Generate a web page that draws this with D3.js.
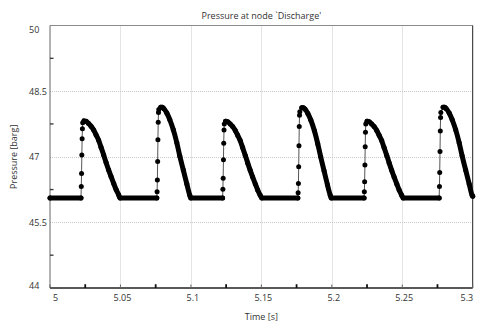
<!DOCTYPE html>
<html>
<head>
<meta charset="utf-8">
<script src="https://cdn.jsdelivr.net/npm/d3@7"></script>
<style>
  html, body { margin: 0; padding: 0; background: #fff; }
  svg { display: block; }
  text { font-family: "Open Sans", "Noto Sans", sans-serif; fill: #333; }
</style>
</head>
<body>
<svg id="chart" width="480" height="334"></svg>
<script>
// Axis ticks and labels
const timeTicks = [5, 5.05, 5.1, 5.15, 5.2, 5.25, 5.3];
const timeTickLabels = ["5", "5.05", "5.1", "5.15", "5.2", "5.25", "5.3"];
const timeMinorTicks = [5.025, 5.075, 5.125, 5.175, 5.225, 5.275];
const pressureTicks = [44, 45.5, 47, 48.5, 50];
const pressureTickLabels = ["44", "45.5", "47", "48.5", "50"];
const pressureMinorTicks = [44.75, 46.25, 47.75, 49.25];

// Discharge pressure samples [time s, pressure barg]
const traceStart = [[5.0000, 46.06]];

// Each pulse: fast rise (individually visible samples), then slower decay.
const rise1 = [[5.0220, 46.06], [5.0222, 46.32], [5.0224, 46.62], [5.0226, 47.04], [5.0228, 47.41], [5.0230, 47.64], [5.0232, 47.78]];
const fall1 = [[5.0241, 47.82], [5.0256, 47.81], [5.0274, 47.76], [5.0291, 47.70], [5.0310, 47.61], [5.0327, 47.50], [5.0345, 47.38], [5.0362, 47.22], [5.0381, 47.04], [5.0398, 46.87], [5.0416, 46.70], [5.0433, 46.55], [5.0452, 46.39], [5.0469, 46.25], [5.0487, 46.13], [5.0497, 46.06]];

const rise2 = [[5.0758, 46.06], [5.0760, 46.20], [5.0762, 46.47], [5.0764, 46.89], [5.0766, 47.39], [5.0768, 47.79], [5.0770, 48.01], [5.0772, 48.08]];
const fall2 = [[5.0786, 48.13], [5.0797, 48.13], [5.0808, 48.10], [5.0829, 48.00], [5.0850, 47.85], [5.0875, 47.62], [5.0900, 47.32], [5.0921, 47.02], [5.0946, 46.70], [5.0971, 46.38], [5.0992, 46.12], [5.0999, 46.06]];

const rise3 = [[5.1225, 46.06], [5.1227, 46.26], [5.1229, 46.51], [5.1231, 46.93], [5.1233, 47.31], [5.1235, 47.61], [5.1237, 47.75]];
const fall3 = [[5.1246, 47.81], [5.1261, 47.80], [5.1279, 47.75], [5.1296, 47.69], [5.1315, 47.60], [5.1332, 47.49], [5.1350, 47.37], [5.1367, 47.21], [5.1386, 47.03], [5.1403, 46.86], [5.1421, 46.69], [5.1438, 46.54], [5.1457, 46.38], [5.1474, 46.24], [5.1492, 46.12], [5.1503, 46.06]];

const rise4 = [[5.1759, 46.06], [5.1761, 46.18], [5.1763, 46.39], [5.1765, 46.77], [5.1767, 47.25], [5.1769, 47.69], [5.1771, 47.95], [5.1773, 48.03]];
const fall4 = [[5.1787, 48.12], [5.1798, 48.12], [5.1809, 48.09], [5.1830, 47.99], [5.1851, 47.84], [5.1876, 47.60], [5.1900, 47.30], [5.1921, 47.00], [5.1945, 46.68], [5.1969, 46.36], [5.1989, 46.12], [5.1996, 46.06]];

const rise5 = [[5.2229, 46.06], [5.2231, 46.20], [5.2233, 46.43], [5.2235, 46.81], [5.2237, 47.23], [5.2239, 47.56], [5.2241, 47.75]];
const fall5 = [[5.2250, 47.81], [5.2265, 47.80], [5.2283, 47.75], [5.2300, 47.69], [5.2319, 47.60], [5.2336, 47.49], [5.2354, 47.37], [5.2371, 47.21], [5.2390, 47.03], [5.2407, 46.86], [5.2425, 46.69], [5.2442, 46.54], [5.2461, 46.38], [5.2478, 46.24], [5.2496, 46.12], [5.2506, 46.06]];

const rise6 = [[5.2762, 46.06], [5.2764, 46.32], [5.2766, 46.64], [5.2768, 47.12], [5.2770, 47.59], [5.2772, 47.90], [5.2774, 48.01]];
const fall6 = [[5.2790, 48.13], [5.2801, 48.13], [5.2812, 48.10], [5.2833, 48.00], [5.2854, 47.85], [5.2879, 47.62], [5.2904, 47.32], [5.2925, 47.02], [5.2950, 46.70], [5.2975, 46.38], [5.2996, 46.12], [5.3000, 46.10]];

const rises = [rise1, rise2, rise3, rise4, rise5, rise6];
const falls = [fall1, fall2, fall3, fall4, fall5, fall6];

// ---- layout ----
const plot = { left: 50, top: 25.5, right: 472.7, bottom: 288 };
const markerR = 2.5;

const svg = d3.select("#chart");

const x = d3.scaleLinear().domain([5, 5.3]).range([plot.left, plot.right]);
const y = d3.scaleLinear().domain([44, 50]).range([plot.bottom, plot.top]);

// grid
const grid = svg.append("g").attr("stroke", "#c8c8c8").attr("stroke-dasharray", "1,1").attr("stroke-width", 1);
grid.selectAll("line.vx").data(timeTicks.slice(1, -1)).join("line")
  .attr("x1", d => Math.round(x(d)) + 0.5).attr("x2", d => Math.round(x(d)) + 0.5)
  .attr("y1", plot.top).attr("y2", plot.bottom);
grid.selectAll("line.hy").data(pressureTicks.slice(1, -1)).join("line")
  .attr("y1", d => Math.round(y(d)) + 0.5).attr("y2", d => Math.round(y(d)) + 0.5)
  .attr("x1", plot.left).attr("x2", plot.right);

// frame
const frame = svg.append("g").attr("fill", "none");
frame.append("line").attr("x1", plot.left).attr("x2", plot.right).attr("y1", plot.top).attr("y2", plot.top).attr("stroke", "#8a8a8a");
frame.append("line").attr("x1", plot.left).attr("x2", plot.left).attr("y1", plot.top).attr("y2", plot.bottom).attr("stroke", "#666");
frame.append("line").attr("x1", plot.right).attr("x2", plot.right).attr("y1", plot.top).attr("y2", plot.bottom).attr("stroke", "#222");
frame.append("line").attr("x1", plot.left).attr("x2", plot.right).attr("y1", plot.bottom).attr("y2", plot.bottom).attr("stroke", "#222").attr("stroke-width", 1.4);

// ticks (drawn inward)
const ticks = svg.append("g");
ticks.selectAll("line.xmaj").data(timeTicks).join("line")
  .attr("x1", d => x(d)).attr("x2", d => x(d)).attr("y1", plot.bottom).attr("y2", plot.bottom - 3.5)
  .attr("stroke", "#666").attr("stroke-width", 1);
ticks.selectAll("line.xmin").data(timeMinorTicks).join("line")
  .attr("x1", d => x(d)).attr("x2", d => x(d)).attr("y1", plot.bottom).attr("y2", plot.bottom - 3.8)
  .attr("stroke", "#111").attr("stroke-width", 1.8);
ticks.selectAll("line.ymin").data(pressureMinorTicks).join("line")
  .attr("x1", plot.left).attr("x2", plot.left + 3.5).attr("y1", d => y(d)).attr("y2", d => y(d))
  .attr("stroke", "#333").attr("stroke-width", 1.3);

// tick labels
const xLab = svg.append("g").attr("font-size", 9);
xLab.selectAll("text").data(timeTicks).join("text")
  .text((d, i) => timeTickLabels[i])
  .attr("y", 301)
  .attr("text-anchor", "middle")
  .attr("x", function (d) {
    const w = this.getComputedTextLength();
    let cx = x(d) + 2;
    cx = Math.max(plot.left + 3 + w / 2, Math.min(plot.right + 0.5 - w / 2, cx));
    return cx;
  });

const yLab = svg.append("g").attr("font-size", 9);
yLab.selectAll("text").data(pressureTicks).join("text")
  .text((d, i) => pressureTickLabels[i])
  .attr("x", 29)
  .attr("dominant-baseline", "central")
  .attr("y", d => Math.max(plot.top + 3.5, Math.min(plot.bottom - 2.3, y(d))));

// titles
svg.append("text").attr("x", (plot.left + plot.right) / 2).attr("y", 19)
  .attr("text-anchor", "middle").attr("font-size", 9).text("Pressure at node `Discharge'");
svg.append("text").attr("x", (plot.left + plot.right) / 2).attr("y", 320)
  .attr("text-anchor", "middle").attr("font-size", 9).text("Time [s]");
svg.append("text")
  .attr("transform", `translate(17,${(plot.top + plot.bottom) / 2}) rotate(-90)`)
  .attr("text-anchor", "middle").attr("font-size", 9).text("Pressure [barg]");

// ---- series ----
const allPoints = traceStart.concat(...rises.map((r, i) => r.concat(falls[i])));

// dense stretches (flat base + decay) where markers merge into a band
const denseSegments = [traceStart.concat([rises[0][0]])];
falls.forEach((f, i) => {
  denseSegments.push(i + 1 < rises.length ? f.concat([rises[i + 1][0]]) : f);
});

const series = svg.append("g");

const thin = d3.line().x(d => x(d[0])).y(d => y(d[1]));
series.append("path").datum(allPoints).attr("d", thin)
  .attr("fill", "none").attr("stroke", "#555").attr("stroke-width", 1);

const band = d3.line().x(d => x(d[0])).y(d => y(d[1])).curve(d3.curveMonotoneX);
series.selectAll("path.band").data(denseSegments).join("path")
  .attr("class", "band").attr("d", band)
  .attr("fill", "none").attr("stroke", "#000").attr("stroke-width", markerR * 2)
  .attr("stroke-linejoin", "round").attr("stroke-linecap", "round");

series.selectAll("circle").data(allPoints).join("circle")
  .attr("cx", d => x(d[0])).attr("cy", d => y(d[1])).attr("r", markerR)
  .attr("fill", "#000");
</script>
</body>
</html>
